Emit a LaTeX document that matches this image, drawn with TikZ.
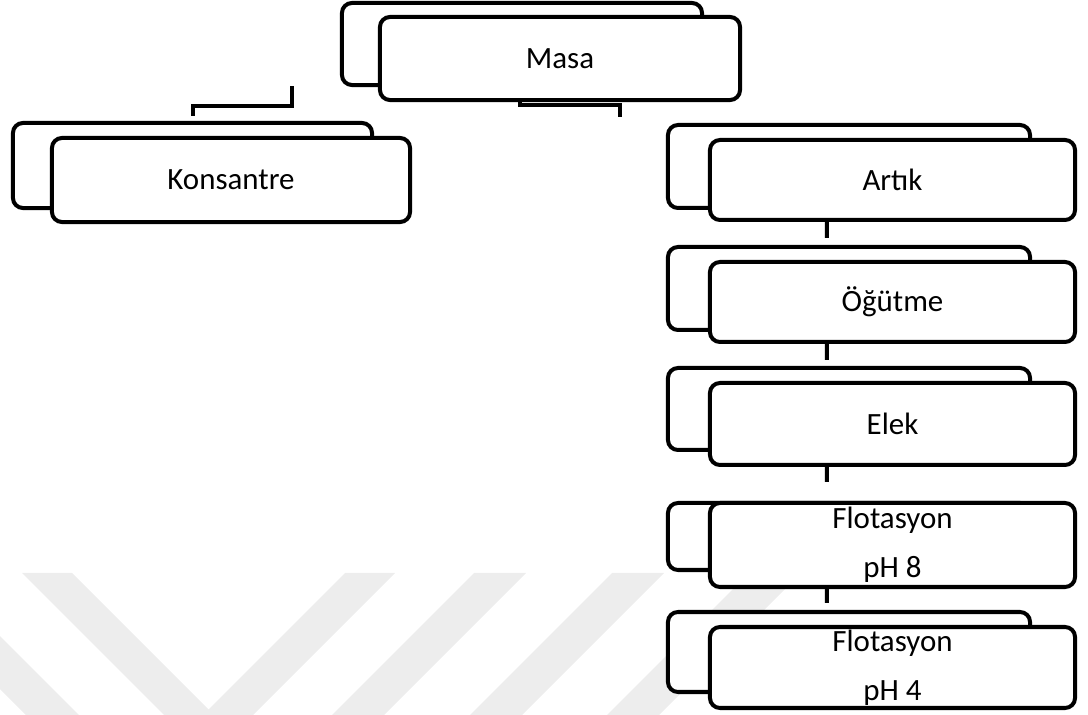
\documentclass[tikz,border=0pt]{standalone}
\usepackage{fontspec}
\setmainfont{Carlito}
\usetikzlibrary{calc}
\tikzset{
  pane/.style={draw, fill=white, line width=1mm, rounded corners=2.5mm, inner sep=0pt, outer sep=0pt, align=center, font=\fontsize{22}{35}\selectfont},
  conn/.style={line width=1mm},
  wmark/.style={black!7}
}

\begin{document}
\begin{tikzpicture}[x=0.025cm, y=-0.025cm]
  \useasboundingbox (0,0) rectangle (1088,715);
  % faint watermark behind the chart
  \fill[wmark] (22,573) -- (72,573) -- (208.5,709.5) -- (345,573) -- (395,573) -- (253,715) -- (164,715) -- cycle;
  \fill[wmark] (0,636) -- (79,715) -- (26,715) -- (0,689) -- cycle;
  \foreach \a in {474,612,749}
    \fill[wmark] (\a,573) -- (\a+52,573) -- (\a-90,715) -- (\a-142,715) -- cycle;
  % Masa
  \node[pane, minimum width=9cm, minimum height=2.05cm] at (522,44) (masa-b) {};
  \node[pane, minimum width=9cm, minimum height=2.075cm] at (560,58.5) (masa) {Masa};
  % Konsantre
  \node[pane, minimum width=8.975cm, minimum height=2.125cm] at (192.5,165.5) (kons-b) {};
  \node[pane, minimum width=8.95cm, minimum height=2.1cm] at (231,180) (kons) {Konsantre};
  % right column
  \foreach \nm/\txt/\yb/\hb/\yf/\hf in {
    artik/Artık/166.5/83/180/80,
    ogutme/Öğütme/288.5/83/302/80,
    elek/Elek/409/82/424/82,
    ph8/{Flotasyon\\pH 8}/536.5/67/545/84,
    ph4/{Flotasyon\\pH 4}/652/80/667.5/81} {
    \node[pane, minimum width=9.05cm, minimum height=\hb*0.025cm] at (849,\yb) (\nm-b) {};
    \node[pane, minimum width=9.125cm, minimum height=\hf*0.025cm] at (892.5,\yf) (\nm) {\txt};
  }
  % connectors
  \draw[conn] ($(kons-b.north)+(0,-7)$) -- ++(0,-10) -| ($(masa-b.south west)+(-50,1)$);
  \draw[conn] ($(masa.south west)+(140,0)$) -- ++(0,5) -| ($(artik-b.north west)+(-48,-8)$);
  \foreach \src/\dst/\gap in {artik/ogutme/9, ogutme/elek/8, elek/ph8/21, ph8/ph4/9}
    \draw[conn] ($(\src.south west)+(117,0)$) -- ($(\dst-b.north west)+(159,-\gap)$);
\end{tikzpicture}
\end{document}
